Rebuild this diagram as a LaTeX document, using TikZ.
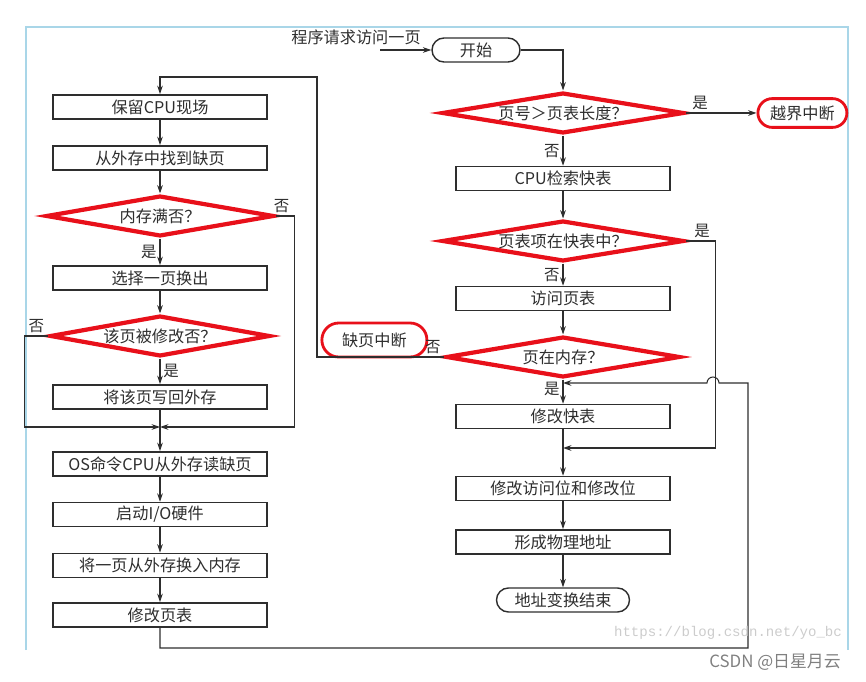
\documentclass[tikz,border=0pt]{standalone}
\usepackage{fontspec}
\setmainfont{Noto Sans CJK SC}
\newfontfamily\urlfont{Liberation Mono}
\usepackage{xcolor}
\usetikzlibrary{arrows.meta, shapes.geometric, calc}

\definecolor{inkgray}{HTML}{2E2E2E}
\definecolor{frameblue}{HTML}{A9D6E8}
\definecolor{alarmred}{HTML}{E8101A}

\begin{document}
\begin{tikzpicture}[
    font=\fontsize{11.5}{13}\selectfont, >={Stealth[length=6pt, width=4pt]},
    text=inkgray,
    stepbox/.style={draw=inkgray, line width=1.2pt, fill=white,
        minimum width=5.35cm, minimum height=0.6cm, inner sep=0pt},
    decision/.style={diamond, draw=alarmred, line width=3pt, fill=white,
        minimum width=#1, minimum height=1.02cm, aspect=5.5, inner sep=0pt},
    termbox/.style={draw=inkgray, line width=1pt, rounded corners=0.3cm,
        minimum width=#1, minimum height=0.6cm, inner sep=0pt},
    alarmbox/.style={draw=alarmred, line width=2pt, rounded corners=0.36cm,
        minimum width=#1, minimum height=0.72cm, inner sep=0pt},
    arr/.style={->, line width=0.75pt, draw=inkgray},
    wire/.style={line width=0.75pt, draw=inkgray},
    yn/.style={font=\fontsize{11}{12}\selectfont, inner sep=2pt},
]
\useasboundingbox (0,0) rectangle (21.65,17.025);

%% ========== SCREENSHOT FRAME ==========
\draw[frameblue, line width=0.8pt] (0.65,0.775) -- (0.65,16.35) -- (21.2,16.35) -- (21.2,0.775);

%% ========== LEFT COLUMN (page fault handling) ==========
\node[stepbox] (save) at (4.0,14.35) {保留CPU现场};
\node[stepbox] (find) at (4.0,13.075) {从外存中找到缺页};
\node[decision=5.7cm] (full) at (4.0,11.625) {内存满否？};
\node[stepbox] (pick) at (4.0,10.075) {选择一页换出};
\node[decision=5.5cm] (dirty) at (4.0,8.625) {该页被修改否？};
\node[stepbox] (write) at (4.0,7.1) {将该页写回外存};
\coordinate (merge) at (4.0,6.35);
\node[stepbox] (read) at (4.0,5.425) {OS命令CPU从外存读缺页};
\node[stepbox] (startio) at (4.0,4.16) {启动I/O硬件};
\node[stepbox] (swapin) at (4.0,2.89) {将一页从外存换入内存};
\node[stepbox] (fixpt) at (4.0,1.65) {修改页表};

%% ========== RIGHT COLUMN (address translation) ==========
\node (req) at (8.9,16.1) {程序请求访问一页};
\coordinate (reqin) at (9.5,15.775);
\node[termbox=2.2cm] (begin) at (11.9,15.775) {开始};
\node[decision=6.05cm] (bound) at (14.075,14.2) {页号＞页表长度？};
\node[alarmbox=2.225cm] (over) at (20.06,14.2) {越界中断};
\node[stepbox] (tlb) at (14.075,12.56) {CPU检索快表};
\node[decision=6.05cm] (hit) at (14.075,11.0) {页表项在快表中？};
\node[stepbox] (ptab) at (14.075,9.56) {访问页表};
\node[decision=5.85cm] (inmem) at (14.075,8.1) {页在内存？};
\node[alarmbox=2.625cm, minimum height=0.85cm, rounded corners=0.42cm] (fault) at (9.36,8.525) {缺页中断};
\coordinate (back) at (14.075,7.45);
\node[stepbox] (fixtlb) at (14.075,6.61) {修改快表};
\coordinate (hitjoin) at (14.075,5.825);
\node[stepbox] (bits) at (14.075,4.81) {修改访问位和修改位};
\node[stepbox] (phys) at (14.075,3.475) {形成物理地址};
\node[termbox=3.325cm] (done) at (14.075,2.025) {地址变换结束};

%% ========== LEFT COLUMN FLOW ==========
\draw[arr] (save) -- (find);
\draw[arr] (find) -- (full);
\draw[arr] (full) -- (pick) node[yn, midway, left] {是};
\draw[arr] (full.east) -- ++(0.45,0) node[yn, above, pos=0.3] {否} |- (merge);
\draw[arr] (pick) -- (dirty);
\draw[arr] (dirty) -- (write) node[yn, midway, right] {是};
\draw[arr] (dirty.west) -- ++(-0.575,0) node[yn, above, midway] {否} |- (merge);
\draw[wire] (write) -- (merge);
\draw[arr] (merge) -- (read);
\draw[arr] (read) -- (startio);
\draw[arr] (startio) -- (swapin);
\draw[arr] (swapin) -- (fixpt);

%% ========== RIGHT COLUMN FLOW ==========
\draw[arr] (reqin) -- (begin.west);
\draw[arr] (begin.east) -| (bound.north);
\draw[arr] (bound.east) -- (over.west) node[yn, above, pos=0.2] {是};
\draw[arr] (bound) -- (tlb) node[yn, midway, left] {否};
\draw[arr] (tlb) -- (hit);
\draw[arr] (hit) -- (ptab) node[yn, midway, left] {否};
\draw[arr] (hit.east) -- ++(0.725,0) node[yn, above, pos=0.55] {是} |- (hitjoin);
\draw[arr] (ptab) -- (inmem);
\draw[arr] (inmem) -- (fixtlb) node[yn, pos=0.4, left] {是};
\draw[arr] (fixtlb) -- (bits);
\draw[arr] (bits) -- (phys);
\draw[arr] (phys) -- (done);

%% ========== LOOPS BETWEEN COLUMNS ==========
\draw[arr] (inmem.west) node[yn, above left] {否} -| (7.925,15.1) -| (save.north);
\draw[arr] (fixpt.south) |- (18.7,0.825) -- (18.7,7.45) -- (17.975,7.45)
    arc[start angle=0, end angle=180, radius=0.15] -- (back);

%% ========== WATERMARKS ==========
\node[font=\urlfont\fontsize{10}{12}\selectfont, text=gray!40] (url) at (18.2,1.2) {https://blog.csdn.net/yo\_bc};
\node[font=\fontsize{12}{14}\selectfont, text=gray] (mark) at (19.375,0.475) {CSDN @日星月云};
\end{tikzpicture}
\end{document}
